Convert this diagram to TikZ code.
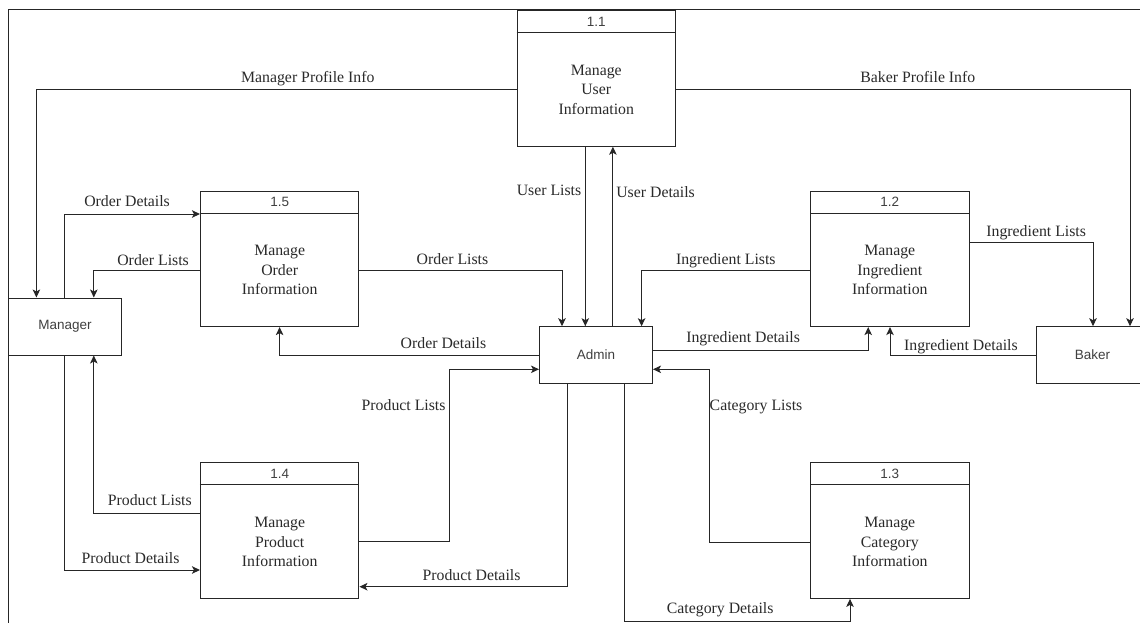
\documentclass[tikz,border=0pt]{standalone}
\usepackage{fontspec}
\setmainfont{Liberation Serif}
\newfontfamily\sansfnt{Liberation Sans}
\usetikzlibrary{arrows.meta,calc}
\definecolor{ln}{HTML}{262626}
\definecolor{tx}{HTML}{2A2A2A}
\definecolor{stx}{HTML}{404040}
\newcommand\procbox[4]{%
  \node[proc] (#1) at (#2) {};
  \draw[ln, line width=1pt] ($(#1.north west)+(0,22.5)$) -- ($(#1.north east)+(0,22.5)$);
  \node[pid] (#1id) at ($(#1.north)+(0,11.25)$) {#3};
  \node[ptext] (#1tx) at ($(#1.center)+(0,11.25)$) {#4};
}
\begin{document}
\begin{tikzpicture}[x=1pt,y=-1pt,
  flow/.style={draw=ln, line width=1pt, -{Stealth[length=8pt,width=7.5pt,inset=2pt]}},
  entity/.style={draw=ln, line width=1pt, minimum width=113pt, minimum height=56.6pt, inner sep=0pt, font=\sansfnt\fontsize{13.5}{16}\selectfont, text=stx},
  proc/.style={draw=ln, line width=1pt, minimum width=158.5pt, minimum height=135.5pt, inner sep=0pt},
  pid/.style={font=\sansfnt\fontsize{13.5}{16}\selectfont, text=stx, inner sep=0pt},
  ptext/.style={font=\fontsize{15.8}{19.5}\selectfont, text=tx, align=center, inner sep=0pt},
  lbl/.style={font=\fontsize{15.8}{19}\selectfont, text=tx, anchor=base, inner sep=0pt},
]
\useasboundingbox (0,0) rectangle (1140,623);
\clip (0,0) rectangle (1140,623);
\fill[white] (0,0) rectangle (1140,623);
% frame
\draw[ln, line width=1pt] (8,640) -- (8,10) -- (1160,10);

% external entities
\node[entity, minimum width=113.8pt, minimum height=57pt] (mgr) at (65,326.5) {Manager};
\node[entity] (admin) at (596,355) {Admin};
\node[entity] (baker) at (1092.5,355) {Baker};

% processes
\procbox{p11}{596.25,78.5}{1.1}{Manage\\User\\Information}
\procbox{p15}{279.7,258.85}{1.5}{Manage\\Order\\Information}
\procbox{p12}{889.8,258.85}{1.2}{Manage\\Ingredient\\Information}
\procbox{p14}{279.7,530.65}{1.4}{Manage\\Product\\Information}
\procbox{p13}{889.8,530.65}{1.3}{Manage\\Category\\Information}

% bend points
\coordinate (cMPI) at (36.4,89.3);
\coordinate (cBPI) at (1130,89.3);
\coordinate (cUL) at (585.3,0);
\coordinate (cUD) at (612.9,0);
\coordinate (cOD1) at (64.7,214);
\coordinate (cOL1) at (93.8,270.7);
\coordinate (cOL2) at (562,270.7);
\coordinate (cOD2) at (279.6,355);
\coordinate (cIL1) at (641.6,270.7);
\coordinate (cIL2) at (1093,242.3);
\coordinate (cID1) at (868.2,350);
\coordinate (cID2) at (890,355.3);
\coordinate (cPLa) at (449,541.7);
\coordinate (cPLb) at (449,369.3);
\coordinate (cPD1) at (567.3,586.7);
\coordinate (cPL2) at (93.8,513.7);
\coordinate (cPD2) at (64.7,570);
\coordinate (cCLa) at (709,542.3);
\coordinate (cCLb) at (709,369.3);
\coordinate (cCDa) at (624.5,621);
\coordinate (cCDb) at (850,621);

% connectors
\draw[flow] (p11.west |- cMPI) -- (cMPI) -- (cMPI |- mgr.north);
\draw[flow] (p11.east |- cBPI) -- (cBPI) -- (cBPI |- baker.north);
\draw[flow] (cUL |- p11.south) -- (cUL |- admin.north);
\draw[flow] (cUD |- admin.north) -- (cUD |- p11.south);
\draw[flow] (cOD1 |- mgr.north) -- (cOD1) -- (p15.west |- cOD1);
\draw[flow] (p15.west |- cOL1) -- (cOL1) -- (cOL1 |- mgr.north);
\draw[flow] (p15.east |- cOL2) -- (cOL2) -- (cOL2 |- admin.north);
\draw[flow] (admin.west |- cOD2) -- (cOD2) -- (cOD2 |- p15.south);
\draw[flow] (p12.west |- cIL1) -- (cIL1) -- (cIL1 |- admin.north);
\draw[flow] (p12.east |- cIL2) -- (cIL2) -- (cIL2 |- baker.north);
\draw[flow] (admin.east |- cID1) -- (cID1) -- (cID1 |- p12.south);
\draw[flow] (baker.west |- cID2) -- (cID2) -- (cID2 |- p12.south);
\draw[flow] (p14.east |- cPLa) -- (cPLa) -- (cPLb) -- (admin.west |- cPLb);
\draw[flow] (cPD1 |- admin.south) -- (cPD1) -- (p14.east |- cPD1);
\draw[flow] (p14.west |- cPL2) -- (cPL2) -- (cPL2 |- mgr.south);
\draw[flow] (cPD2 |- mgr.south) -- (cPD2) -- (p14.west |- cPD2);
\draw[flow] (p13.west |- cCLa) -- (cCLa) -- (cCLb) -- (admin.east |- cCLb);
\draw[flow] (cCDa |- admin.south) -- (cCDa) -- (cCDb) -- (cCDb |- p13.south);

% labels
\node[lbl] (lMPI) at (307.8,82.7) {Manager Profile Info};
\node[lbl] (lBPI) at (917.8,82.7) {Baker Profile Info};
\node[lbl] (lUL) at (549,195) {User Lists};
\node[lbl] (lUD) at (655.6,197) {User Details};
\node[lbl] (lOD1) at (127.1,206.7) {Order Details};
\node[lbl] (lOL1) at (153.1,265) {Order Lists};
\node[lbl] (lOL2) at (452.5,264) {Order Lists};
\node[lbl] (lOD2) at (443.5,348.3) {Order Details};
\node[lbl] (lIL1) at (725.8,264) {Ingredient Lists};
\node[lbl] (lIL2) at (1036.2,236) {Ingredient Lists};
\node[lbl] (lID1) at (743.1,342.7) {Ingredient Details};
\node[lbl] (lID2) at (960.9,350) {Ingredient Details};
\node[lbl] (lPL1) at (403.6,410.7) {Product Lists};
\node[lbl] (lCL) at (756,410) {Category Lists};
\node[lbl] (lPL2) at (149.8,505.7) {Product Lists};
\node[lbl] (lPD2) at (130.5,563.3) {Product Details};
\node[lbl] (lPD1) at (471.5,580.7) {Product Details};
\node[lbl] (lCD) at (720.2,613.3) {Category Details};
\end{tikzpicture}
\end{document}
